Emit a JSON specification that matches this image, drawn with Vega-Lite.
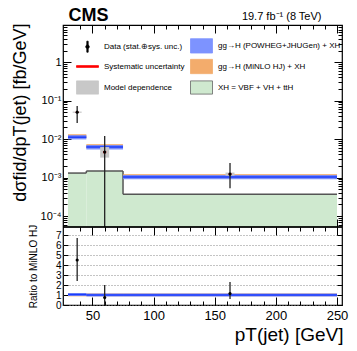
{
"$schema": "https://vega.github.io/schema/vega-lite/v6.json",
"autosize": {"type": "none"},
"padding": {"left": 63, "top": 25, "right": 15, "bottom": 46},
"width": 279, "height": 280,
"background": "white",
"config": {"font": "Liberation Sans", "view": {"stroke": "black", "strokeWidth": 1.2},
  "axis": {"domain": false, "grid": false, "tickColor": "black", "labelColor": "black", "titleColor": "black", "tickWidth": 1, "labelFont": "Liberation Sans", "titleFont": "Liberation Sans", "titleFontWeight": "normal"}},
"datasets": {
  "xh": [{"xlo": 30, "xhi": 45, "y": 0.00131}, {"xlo": 45, "xhi": 75, "y": 0.00148}, {"xlo": 75, "xhi": 250, "y": 0.00037}],
  "mc": [
    {"xlo": 30, "xhi": 45, "p": 0.0112, "plo": 0.0098, "phi": 0.0127, "mlo": 0.0104, "mhi": 0.0133, "rp": 1.05, "rplo": 0.9, "rphi": 1.2, "rmlo": 0.87, "rmhi": 1.15},
    {"xlo": 45, "xhi": 75, "p": 0.0062, "plo": 0.0054, "phi": 0.007, "mlo": 0.0057, "mhi": 0.0073, "rp": 1.0, "rplo": 0.85, "rphi": 1.15, "rmlo": 0.87, "rmhi": 1.15},
    {"xlo": 75, "xhi": 250, "p": 0.00103, "plo": 0.0009, "phi": 0.00117, "mlo": 0.00095, "mhi": 0.00122, "rp": 1.0, "rplo": 0.85, "rphi": 1.15, "rmlo": 0.87, "rmhi": 1.15}],
  "pts": [
    {"x": 37.5, "y": 0.05, "lo": 0.026, "hi": 0.072, "slo": 0.0485, "shi": 0.0515, "mlo": 0.0482, "mhi": 0.0518, "r": 4.5, "rlo": 2.4, "rhi": 6.7},
    {"x": 60, "y": 0.0046, "lo": 0.00001, "hi": 0.012, "slo": 0.0043, "shi": 0.0049, "mlo": 0.0033, "mhi": 0.0062, "r": 0.75, "rlo": -1, "rhi": 2.0},
    {"x": 162.5, "y": 0.00123, "lo": 0.00053, "hi": 0.0024, "slo": 0.00118, "shi": 0.00128, "mlo": 0.00112, "mhi": 0.00135, "r": 1.15, "rlo": 0.6, "rhi": 2.3}],
  "leg": [{"series": "Data (stat.⊕sys. unc.)"}, {"series": "Systematic uncertainty"}, {"series": "Model dependence"}, {"series": "gg→H (POWHEG+JHUGen) + XH"}, {"series": "gg→H (MiNLO HJ) + XH"}, {"series": "XH = VBF + VH + ttH"}]
},
"resolve": {"scale": {"y": "independent"}, "axis": {"x": "independent", "y": "independent"}},
"layer": [
 {"data": {"name": "xh"}, "mark": {"type": "rect", "fill": "#cfe9cf"},
  "encoding": {
   "x": {"field": "xlo", "type": "quantitative", "scale": {"domain": [30, 250], "nice": false, "zero": false},
     "axis": {"orient": "bottom", "offset": -78, "values": [50, 100, 150, 200, 250], "tickSize": -8, "labels": false, "title": null}},
   "x2": {"field": "xhi"},
   "y": {"field": "y", "type": "quantitative", "scale": {"type": "log", "domain": [0.000052, 9.2], "range": [202, 0], "nice": false, "clamp": true},
     "axis": {"orient": "left", "values": [0.0001, 0.001, 0.01, 0.1, 1], "tickSize": -8, "labelFontSize": 11, "labelPadding": 10,
       "labelExpr": "datum.value >= 0.5 ? '1' : datum.value >= 0.05 ? '10⁻¹' : datum.value >= 0.005 ? '10⁻²' : datum.value >= 0.0005 ? '10⁻³' : '10⁻⁴'",
       "title": "dσfid/dpT(jet) [fb/GeV]", "titleFontSize": 18, "titleAngle": -90, "titleAlign": "right", "titleBaseline": "alphabetic", "titleX": -38, "titleY": -2}},
   "y2": {"datum": 0.000052}}},
 {"data": {"name": "xh"}, "mark": {"type": "rule", "color": "#555555", "strokeWidth": 1.5},
  "encoding": {
   "x": {"field": "xlo", "type": "quantitative", "scale": {"domain": [30, 250], "nice": false, "zero": false},
     "axis": {"orient": "bottom", "offset": -78, "values": [40, 60, 70, 80, 90, 110, 120, 130, 140, 160, 170, 180, 190, 210, 220, 230, 240], "tickSize": -4, "labels": false, "title": null}},
   "x2": {"field": "xhi"},
   "y": {"field": "y", "type": "quantitative", "scale": {"type": "log", "domain": [0.000052, 9.2], "range": [202, 0], "nice": false, "clamp": true},
     "axis": {"orient": "left", "values": [0.00006, 0.00007, 0.00008, 0.00009, 0.0002, 0.0003, 0.0004, 0.0005, 0.0006, 0.0007, 0.0008, 0.0009, 0.002, 0.003, 0.004, 0.005, 0.006, 0.007, 0.008, 0.009, 0.02, 0.03, 0.04, 0.05, 0.06, 0.07, 0.08, 0.09, 0.2, 0.3, 0.4, 0.5, 0.6, 0.7, 0.8, 0.9, 2, 3, 4, 5, 6, 7, 8, 9], "tickSize": -4, "labels": false, "title": null}}}},
 {"data": {"name": "xh"},
  "transform": [{"window": [{"op": "lead", "field": "y", "as": "ynext"}], "sort": [{"field": "xlo"}]}, {"filter": "datum.ynext != null"}],
  "mark": {"type": "rule", "color": "#555555", "strokeWidth": 1.5},
  "encoding": {
   "x": {"field": "xhi", "type": "quantitative", "scale": {"domain": [30, 250], "nice": false, "zero": false},
     "axis": {"orient": "top", "values": [50, 100, 150, 200, 250], "tickSize": -8, "labels": false,
       "title": "CMS", "titleFontSize": 18, "titleFontWeight": "bold", "titleAlign": "left", "titleBaseline": "alphabetic", "titleX": 5, "titleY": -5, "titleAngle": 0}},
   "y": {"field": "y", "type": "quantitative", "scale": {"type": "log", "domain": [0.000052, 9.2], "range": [202, 0], "nice": false, "clamp": true},
     "axis": {"orient": "right", "values": [0.0001, 0.001, 0.01, 0.1, 1], "tickSize": -8, "labels": false, "title": null}},
   "y2": {"field": "ynext"}}},
 {"data": {"name": "mc"}, "mark": {"type": "rect", "fill": "#f0a258"},
  "encoding": {
   "x": {"field": "xlo", "type": "quantitative", "scale": {"domain": [30, 250], "nice": false, "zero": false},
     "axis": {"orient": "top", "values": [40, 60, 70, 80, 90, 110, 120, 130, 140, 160, 170, 180, 190, 210, 220, 230, 240], "tickSize": -4, "labels": false,
       "title": "19.7 fb⁻¹ (8 TeV)", "titleFontSize": 11, "titleAlign": "right", "titleBaseline": "alphabetic", "titleX": 258, "titleY": -6, "titleAngle": 0}},
   "x2": {"field": "xhi"},
   "y": {"field": "mlo", "type": "quantitative", "scale": {"type": "log", "domain": [0.000052, 9.2], "range": [202, 0], "nice": false, "clamp": true},
     "axis": {"orient": "right", "values": [0.00006, 0.00007, 0.00008, 0.00009, 0.0002, 0.0003, 0.0004, 0.0005, 0.0006, 0.0007, 0.0008, 0.0009, 0.002, 0.003, 0.004, 0.005, 0.006, 0.007, 0.008, 0.009, 0.02, 0.03, 0.04, 0.05, 0.06, 0.07, 0.08, 0.09, 0.2, 0.3, 0.4, 0.5, 0.6, 0.7, 0.8, 0.9, 2, 3, 4, 5, 6, 7, 8, 9], "tickSize": -4, "labels": false, "title": null}},
   "y2": {"field": "mhi"}}},
 {"data": {"name": "mc"}, "mark": {"type": "rect", "fill": "#6d86ff", "opacity": 0.9},
  "encoding": {
   "x": {"field": "xlo", "type": "quantitative", "scale": {"domain": [30, 250], "nice": false, "zero": false}, "axis": null},
   "x2": {"field": "xhi"},
   "y": {"field": "plo", "type": "quantitative", "scale": {"type": "log", "domain": [0.000052, 9.2], "range": [202, 0], "nice": false, "clamp": true}, "axis": null},
   "y2": {"field": "phi"}}},
 {"data": {"name": "mc"}, "mark": {"type": "rule", "color": "#1a3cff", "strokeWidth": 1.5},
  "encoding": {
   "x": {"field": "xlo", "type": "quantitative", "scale": {"domain": [30, 250], "nice": false, "zero": false}, "axis": null},
   "x2": {"field": "xhi"},
   "y": {"field": "p", "type": "quantitative", "scale": {"type": "log", "domain": [0.000052, 9.2], "range": [202, 0], "nice": false, "clamp": true}, "axis": null}}},
 {"data": {"name": "pts"}, "mark": {"type": "bar", "size": 9, "color": "#c8c8c8"},
  "encoding": {
   "x": {"field": "x", "type": "quantitative", "scale": {"domain": [30, 250], "nice": false, "zero": false}, "axis": null},
   "y": {"field": "mlo", "type": "quantitative", "scale": {"type": "log", "domain": [0.000052, 9.2], "range": [202, 0], "nice": false, "clamp": true}, "axis": null},
   "y2": {"field": "mhi"}}},
 {"data": {"name": "pts"}, "mark": {"type": "rule", "color": "#222222", "strokeWidth": 1.3},
  "encoding": {
   "x": {"field": "x", "type": "quantitative", "scale": {"domain": [30, 250], "nice": false, "zero": false}, "axis": null},
   "y": {"field": "lo", "type": "quantitative", "scale": {"type": "log", "domain": [0.000052, 9.2], "range": [202, 0], "nice": false, "clamp": true}, "axis": null},
   "y2": {"field": "hi"}}},
 {"data": {"name": "pts"}, "mark": {"type": "bar", "size": 3, "color": "#ff0000"},
  "encoding": {
   "x": {"field": "x", "type": "quantitative", "scale": {"domain": [30, 250], "nice": false, "zero": false}, "axis": null},
   "y": {"field": "slo", "type": "quantitative", "scale": {"type": "log", "domain": [0.000052, 9.2], "range": [202, 0], "nice": false, "clamp": true}, "axis": null},
   "y2": {"field": "shi"}}},
 {"data": {"name": "pts"}, "mark": {"type": "point", "filled": true, "color": "black", "size": 10, "opacity": 1},
  "encoding": {
   "x": {"field": "x", "type": "quantitative", "scale": {"domain": [30, 250], "nice": false, "zero": false}, "axis": null},
   "y": {"field": "y", "type": "quantitative", "scale": {"type": "log", "domain": [0.000052, 9.2], "range": [202, 0], "nice": false, "clamp": true}, "axis": null}}},
 {"data": {"name": "pts"}, "mark": {"type": "rule", "color": "black", "strokeWidth": 1.2},
  "encoding": {
   "y": {"datum": 0.000052, "type": "quantitative", "scale": {"type": "log", "domain": [0.000052, 9.2], "range": [202, 0], "nice": false, "clamp": true}, "axis": null}}},
 {"data": {"name": "mc"}, "mark": {"type": "rect", "fill": "#f0a258"},
  "encoding": {
   "x": {"field": "xlo", "type": "quantitative", "scale": {"domain": [30, 250], "nice": false, "zero": false},
     "axis": {"orient": "bottom", "values": [50, 100, 150, 200, 250], "tickSize": -8, "labelFontSize": 13, "labelPadding": 12, "labelFlush": false,
       "title": "pT(jet) [GeV]", "titleFontSize": 19, "titleAlign": "right", "titleBaseline": "alphabetic", "titleX": 280, "titleY": 35, "titleAngle": 0}},
   "x2": {"field": "xhi"},
   "y": {"field": "rmlo", "type": "quantitative", "scale": {"domain": [0, 7.8], "range": [280, 202], "nice": false, "zero": false, "clamp": true},
     "axis": {"orient": "left", "values": [0, 1, 2, 3, 4, 5, 6, 7], "tickSize": -5, "labelFontSize": 10, "labelPadding": 7, "grid": true, "gridDash": [1, 2], "gridColor": "#888888", "gridWidth": 1,
       "title": "Ratio to MiNLO HJ", "titleFontSize": 10, "titleAngle": -90, "titleAlign": "center", "titleBaseline": "alphabetic", "titleX": -27, "titleY": 241}},
   "y2": {"field": "rmhi"}}},
 {"data": {"name": "mc"}, "mark": {"type": "rect", "fill": "#6d86ff", "opacity": 0.9},
  "encoding": {
   "x": {"field": "xlo", "type": "quantitative", "scale": {"domain": [30, 250], "nice": false, "zero": false},
     "axis": {"orient": "bottom", "values": [40, 60, 70, 80, 90, 110, 120, 130, 140, 160, 170, 180, 190, 210, 220, 230, 240], "tickSize": -4, "labels": false, "title": null}},
   "x2": {"field": "xhi"},
   "y": {"field": "rplo", "type": "quantitative", "scale": {"domain": [0, 7.8], "range": [280, 202], "nice": false, "zero": false, "clamp": true},
     "axis": {"orient": "right", "values": [0, 1, 2, 3, 4, 5, 6, 7], "tickSize": -5, "labels": false, "title": null}},
   "y2": {"field": "rphi"}}},
 {"data": {"name": "mc"}, "mark": {"type": "rule", "color": "#1a3cff", "strokeWidth": 1.5},
  "encoding": {
   "x": {"field": "xlo", "type": "quantitative", "scale": {"domain": [30, 250], "nice": false, "zero": false},
     "axis": {"orient": "top", "offset": -202, "values": [50, 100, 150, 200, 250], "tickSize": -8, "labels": false, "title": null}},
   "x2": {"field": "xhi"},
   "y": {"field": "rp", "type": "quantitative", "scale": {"domain": [0, 7.8], "range": [280, 202], "nice": false, "zero": false, "clamp": true}, "axis": null}}},
 {"data": {"name": "pts"}, "mark": {"type": "rule", "color": "#222222", "strokeWidth": 1.3},
  "encoding": {
   "x": {"field": "x", "type": "quantitative", "scale": {"domain": [30, 250], "nice": false, "zero": false},
     "axis": {"orient": "top", "offset": -202, "values": [40, 60, 70, 80, 90, 110, 120, 130, 140, 160, 170, 180, 190, 210, 220, 230, 240], "tickSize": -4, "labels": false, "title": null}},
   "y": {"field": "rlo", "type": "quantitative", "scale": {"domain": [0, 7.8], "range": [280, 202], "nice": false, "zero": false, "clamp": true}, "axis": null},
   "y2": {"field": "rhi"}}},
 {"data": {"name": "pts"}, "mark": {"type": "point", "filled": true, "color": "black", "size": 10, "opacity": 1},
  "encoding": {
   "x": {"field": "x", "type": "quantitative", "scale": {"domain": [30, 250], "nice": false, "zero": false}, "axis": null},
   "y": {"field": "r", "type": "quantitative", "scale": {"domain": [0, 7.8], "range": [280, 202], "nice": false, "zero": false, "clamp": true}, "axis": null}}},
 {"data": {"name": "leg"}, "mark": {"type": "point", "filled": true, "opacity": 0},
  "encoding": {
   "color": {"field": "series", "type": "nominal",
     "scale": {"domain": ["Data (stat.⊕sys. unc.)", "Systematic uncertainty", "Model dependence", "gg→H (POWHEG+JHUGen) + XH", "gg→H (MiNLO HJ) + XH", "XH = VBF + VH + ttH"],
               "range": ["black", "#ff0000", "#c8c8c8", "#7d93ff", "#f3ac6c", "#cfe9cf"]},
     "legend": {"title": null, "orient": "none", "legendX": 13, "legendY": 9, "columns": 2, "columnPadding": 3, "rowPadding": 0, "symbolSize": 484, "labelFontSize": 8, "labelFont": "Liberation Sans", "labelColor": "black", "labelOffset": 5, "symbolStrokeWidth": 0.8, "symbolOpacity": 1, "padding": 0, "labelLimit": 300}},
   "stroke": {"field": "series", "type": "nominal",
     "scale": {"domain": ["Data (stat.⊕sys. unc.)", "Systematic uncertainty", "Model dependence", "gg→H (POWHEG+JHUGen) + XH", "gg→H (MiNLO HJ) + XH", "XH = VBF + VH + ttH"],
               "range": ["black", "#ff0000", "#c8c8c8", "#7d93ff", "#f3ac6c", "#666666"]},
     "legend": {"title": null, "orient": "none", "legendX": 13, "legendY": 9, "columns": 2, "columnPadding": 3, "rowPadding": 0, "symbolSize": 484, "labelFontSize": 8, "labelFont": "Liberation Sans", "labelColor": "black", "labelOffset": 5, "symbolStrokeWidth": 0.8, "symbolOpacity": 1, "padding": 0, "labelLimit": 300}},
   "shape": {"field": "series", "type": "nominal",
     "scale": {"domain": ["Data (stat.⊕sys. unc.)", "Systematic uncertainty", "Model dependence", "gg→H (POWHEG+JHUGen) + XH", "gg→H (MiNLO HJ) + XH", "XH = VBF + VH + ttH"],
               "range": ["M-0.06,-0.5H0.06V0.5H-0.06Z M0.16,0A0.16,0.16 0 1,1 -0.16,0A0.16,0.16 0 1,1 0.16,0Z", "M-1,-0.08H1V0.08H-1Z", "M-1,-0.6H1V0.6H-1Z", "M-1,-0.65H1V0.65H-1Z", "M-1,-0.65H1V0.65H-1Z", "M-1,-0.6H1V0.6H-1Z"]},
     "legend": {"title": null, "orient": "none", "legendX": 13, "legendY": 9, "columns": 2, "columnPadding": 3, "rowPadding": 0, "symbolSize": 484, "labelFontSize": 8, "labelFont": "Liberation Sans", "labelColor": "black", "labelOffset": 5, "symbolStrokeWidth": 0.8, "symbolOpacity": 1, "padding": 0, "labelLimit": 300}}}}
]
}
